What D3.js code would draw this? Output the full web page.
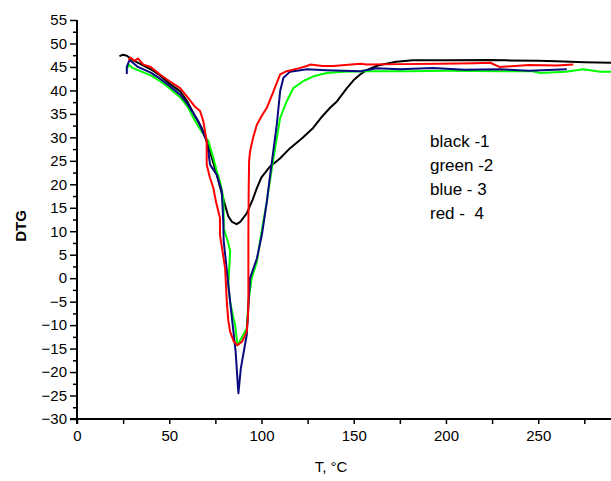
<!DOCTYPE html>
<html>
<head>
<meta charset="utf-8">
<script src="https://cdn.jsdelivr.net/npm/d3@7"></script>
<style>
  body { margin: 0; background: #fff; }
  svg { display: block; font-family: Arial, "Liberation Sans", sans-serif; }
  .tick text { font-size: 15px; fill: #000; }
</style>
</head>
<body>
<div id="chart"></div>
<script>
// DTG curves, [T in °C, DTG]
const black = [[23,47.3],[25,47.6],[27,47.4],[30,46.5],[35,45.5],[40,44.5],[45,43.2],[50,41.5],[56,39.8],[60,37.5],
  [64,34.5],[67.6,32],[70,29.5],[72.1,27],[75.8,22],[79.2,17],[82,13.2],[84,12],[86.5,11.5],[88.5,12],
  [92,13.8],[95,16.5],[97.5,19.2],[100,21.5],[104.7,23.8],[110,25.5],[115.5,27.7],[122,29.8],[128,32],[133,34.5],
  [137.2,36.3],[141,37.7],[146.3,40.5],[150,42.2],[153.5,43.4],[157,44.3],[163,45.3],[173,46.1],[182,46.4],[200,46.4],
  [224,46.5],[233,46.4],[250,46.3],[260,46.2],[275,46],[290,45.9]];

const green = [[27,44.5],[28,45.5],[30,44.8],[35,44],[40,43.2],[45,42],[50,40.5],[56,38.5],[60,36.5],[64,33.5],
  [68,31],[71.2,29.2],[73.9,25.6],[76,22.5],[77.5,20.6],[79.4,17],[79.6,10.6],[82,7.5],[83,5.7],[82.5,2],
  [82,-1.5],[83,-5],[84.5,-8],[85.7,-9.9],[87,-14.3],[89.5,-12.5],[92,-10.7],[92.9,-5],[94.7,0],[97.5,3.5],
  [99.2,7.8],[101,12.1],[102.9,16.3],[103.7,18.5],[106.5,25.6],[110.1,34.1],[113.7,37.7],[117.3,40.5],[122.7,42],[128.2,43],
  [135.4,43.7],[145,44],[157,44.1],[180,44.1],[200,44.2],[230,44.1],[247,44.1],[251,43.7],[265,44],[274.5,44.5],
  [283.6,44],[290,44]];

const blue = [[27,43.5],[27,45],[28.5,46.5],[30,46],[33,45],[40,43.8],[45,42.5],[50,41],[55.9,39.1],[60,37],
  [65.8,33.4],[70.3,29.2],[71.2,27],[72.1,24.2],[75.8,22],[78.5,18.5],[79.3,12],[79.5,8],[83,-5],[86,-15.7],
  [87.3,-23.5],[87.5,-24.5],[88.8,-19.2],[92,-12.1],[93.8,0],[97.5,4.2],[100.2,9.2],[102.9,16.3],[104.7,22],[108.3,32.7],
  [110.1,39.8],[111.9,42.7],[115.5,44],[124.6,44.5],[135,44.3],[153.5,44.1],[162.5,44.7],[175,44.5],[193,44.8],[210,44.4],
  [229,44.5],[245,44.2],[265.5,44.5]];

const red = [[28,46.5],[29,47],[31,46.3],[33,46.8],[36,45.5],[40,45],[45,43.4],[50,42],[55.9,40.5],[60,38.5],
  [64,36.5],[66.7,35.6],[68.5,33.4],[70.3,29.2],[70.3,24.2],[72,21.5],[73.9,19.2],[75.5,16],[77.5,12.8],[77.5,9.2],
  [80.3,2.1],[81.2,-5],[82,-9],[83,-11.4],[85,-13.5],[87,-14.3],[89.5,-13.5],[92,-11.4],[92.7,-8],[92.9,-5],
  [92.9,10],[93.1,20],[93.3,25],[93.8,27],[95.5,30],[97.5,32.7],[100,34.5],[102.9,36.3],[106.5,39.8],[110.1,43.4],
  [113.7,44.1],[120,44.7],[124.6,45.2],[126.4,45.5],[133,45.2],[139,45.2],[153.5,45.7],[157,45.5],[175,45.6],[197,45.7],
  [215,45.8],[224,45.9],[229,45],[245,45.4],[260,45.3],[269,45.5]];

const series = [
  {name: 'black', values: black, color: '#000000'},
  {name: 'green', values: green, color: '#00ff00'},
  {name: 'blue', values: blue, color: '#0a0a80'},
  {name: 'red', values: red, color: '#ff0000'}
];

const xTicks = [0, 50, 100, 150, 200, 250];
const xMinor = [25, 75, 125, 175, 225, 275];
const yTicks = [-30, -25, -20, -15, -10, -5, 0, 5, 10, 15, 20, 25, 30, 35, 40, 45, 50, 55];
const legendLabels = ['black -1', 'green -2', 'blue - 3', 'red -  4'];

const width = 611;
const height = 481;

const svg = d3.select('#chart').append('svg')
  .attr('width', width)
  .attr('height', height);

svg.append('rect').attr('width', width).attr('height', height).attr('fill', '#fff');

// scales
const x = d3.scaleLinear().domain([0, 290]).range([77, 612]);
const y = d3.scaleLinear().domain([-30, 55]).range([419, 20]);

// curves
const line = d3.line().x(d => x(d[0])).y(d => y(d[1]));
svg.selectAll('.curve').data(series).join('path')
  .attr('class', 'curve')
  .attr('d', d => line(d.values))
  .attr('fill', 'none')
  .attr('stroke', d => d.color)
  .attr('stroke-width', 2)
  .attr('stroke-linejoin', 'round');

// y axis
const yMinor = d3.range(-27.5, 55, 5);
svg.append('g').attr('transform', `translate(${x(0)},0)`)
  .call(d3.axisLeft(y).tickValues(yMinor).tickSize(4).tickFormat(''))
  .call(g => g.select('.domain').remove())
  .selectAll('line').attr('stroke-width', 1.5);
svg.append('g').attr('transform', `translate(${x(0)},0)`)
  .call(d3.axisLeft(y).tickValues(yTicks).tickSize(7).tickPadding(3))
  .call(g => g.select('.domain').remove())
  .selectAll('line').attr('stroke-width', 1.5);
svg.append('line')
  .attr('x1', x(0)).attr('x2', x(0)).attr('y1', y(55)).attr('y2', y(-30) + 5)
  .attr('stroke', '#000').attr('stroke-width', 2);

// x axis
svg.append('g').attr('transform', `translate(0,${y(-30)})`)
  .call(d3.axisBottom(x).tickValues(xMinor).tickSize(5).tickFormat(''))
  .call(g => g.select('.domain').remove())
  .selectAll('line').attr('stroke-width', 1.5);
svg.append('g').attr('transform', `translate(0,${y(-30)})`)
  .call(d3.axisBottom(x).tickValues(xTicks).tickSize(5).tickPadding(6))
  .call(g => g.select('.domain').remove())
  .selectAll('line').attr('stroke-width', 1.5);
svg.append('line')
  .attr('x1', x(0) - 7).attr('x2', width).attr('y1', y(-30)).attr('y2', y(-30))
  .attr('stroke', '#000').attr('stroke-width', 2);

// axis titles
svg.append('text')
  .attr('transform', 'translate(26,226) rotate(-90)')
  .attr('text-anchor', 'middle')
  .style('font-size', '15px')
  .style('font-weight', 'bold')
  .text('DTG');

svg.append('text')
  .attr('x', 331).attr('y', 472)
  .attr('text-anchor', 'middle')
  .style('font-size', '15px')
  .text('T, °C');

// legend text
svg.selectAll('.legend').data(legendLabels).join('text')
  .attr('class', 'legend')
  .attr('x', 430)
  .attr('y', (d, i) => 147 + i * 24)
  .style('font-size', '17px')
  .style('white-space', 'pre')
  .text(d => d);
</script>
</body>
</html>
